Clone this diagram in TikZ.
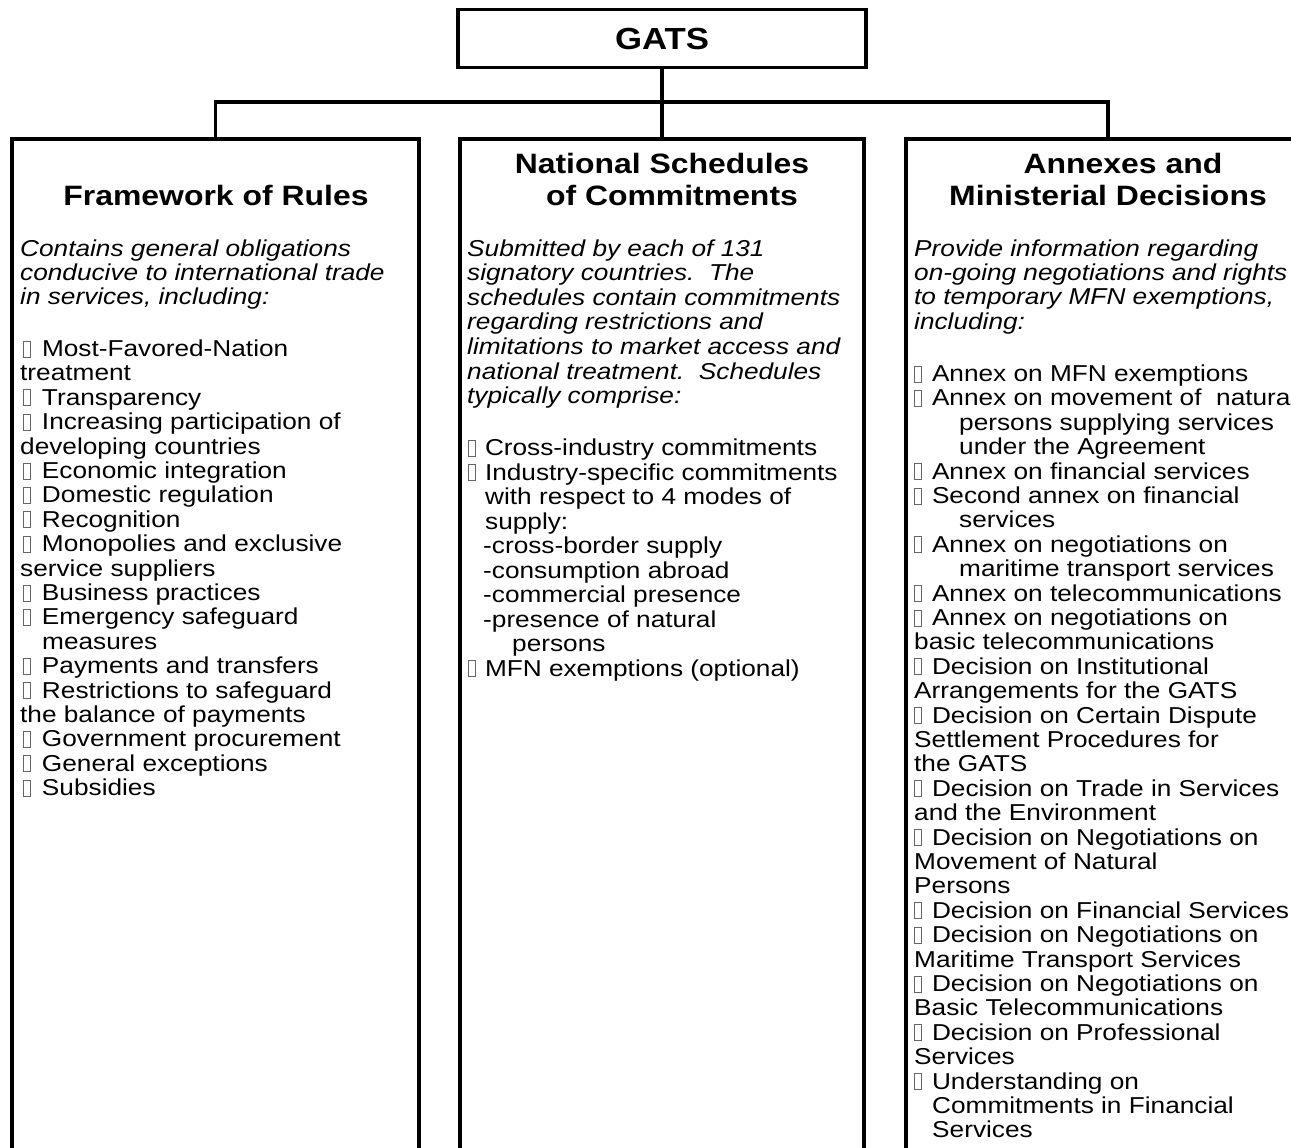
\documentclass[tikz,border=0pt]{standalone}
\usepackage{fontspec}
\setmainfont{Liberation Sans}[FakeStretch=1.14]
\newcommand\tofu{{\color{black!60}\setlength\fboxsep{0pt}\setlength\fboxrule{0.9pt}\fbox{\rule{0pt}{15pt}\hspace{6pt}}}}
\newcommand\tfa{\hspace*{3pt}\tofu\hspace{11pt}}
\newcommand\tfb{\hspace*{1pt}\tofu\hspace{9pt}}
\newcommand\tfc{\tofu\hspace{10pt}}
\tikzset{
  conn/.style={line width=3.5pt},
  colbox/.style={draw, line width=4pt, minimum height=1100pt, anchor=north, inner sep=0pt},
  title/.style={anchor=base, align=center, inner sep=0pt, font=\fontsize{28}{32}\selectfont\bfseries},
  intro/.style={anchor=base west, align=left, inner sep=0pt, font=\fontsize{23}{24.4}\selectfont\itshape},
  items/.style={anchor=base west, align=left, inner sep=0pt, font=\fontsize{23}{24.4}\selectfont},
}
\begin{document}
\begin{tikzpicture}[x=1pt,y=-1pt]
\useasboundingbox (0,0) rectangle (1291,1148);
\clip (0,0) rectangle (1291,1148);
% top box
\node[draw, line width=3.5pt, minimum width=408pt, minimum height=58pt, inner sep=0pt,
      font=\fontsize{30.5}{34}\selectfont\bfseries] (gats) at (662,38.7) {GATS};
% column boxes
\node[colbox, minimum width=407pt] (fw) at (215.5,137) {};
\node[colbox, minimum width=404pt] (ns) at (662,137) {};
\node[colbox, minimum width=404pt] (am) at (1108,137) {};
% connectors
\coordinate (bar) at (662,102);
\draw[conn] (gats.south) -- (ns.north);
\draw[conn] (fw.north) |- (bar) -| (am.north);
% titles (base anchor = last line)
\node[title] (fwt) at (216,205) {Framework of Rules};
\node[title] (nst) at (662,205) {National Schedules\\\hspace*{20pt}of Commitments};
\node[title] (amt) at (1108,205) {\hspace*{30pt}Annexes and\\Ministerial Decisions};
% intros (base anchor = last line)
\node[intro] (fwi) at (20,304.8) {Contains general obligations\\conducive to international trade\\in services, including:};
\node[intro, font=\fontsize{23}{24.6}\selectfont\itshape] (nsi) at (467,403.6) {Submitted by each of 131\\signatory countries.\ \ The\\schedules contain commitments\\regarding restrictions and\\limitations to market access and\\national treatment.\ \ Schedules\\typically comprise:};
\node[intro] (ami) at (914,329.2) {Provide information regarding\\on-going negotiations and rights\\to temporary MFN exemptions,\\including:};
% lists
\node[items] (fwl) at (20,795.7) {\tfa Most-Favored-Nation\\
treatment\\
\tfa Transparency\\
\tfa Increasing participation of\\
developing countries\\
\tfa Economic integration\\
\tfa Domestic regulation\\
\tfa Recognition\\
\tfa Monopolies and exclusive\\
service suppliers\\
\tfa Business practices\\
\tfa Emergency safeguard\\
\hspace*{22pt}measures\\
\tfa Payments and transfers\\
\tfa Restrictions to safeguard\\
the balance of payments\\
\tfa Government procurement\\
\tfa General exceptions\\
\tfa Subsidies};
\node[items, font=\fontsize{23}{24.5}\selectfont] (nsl) at (467,676) {\tfb Cross-industry commitments\\
\tfb Industry-specific commitments\\
\hspace*{18pt}with respect to 4 modes of\\
\hspace*{18pt}supply:\\
\hspace*{16pt}-cross-border supply\\
\hspace*{16pt}-consumption abroad\\
\hspace*{16pt}-commercial presence\\
\hspace*{16pt}-presence of natural\\
\hspace*{45pt}persons\\
\tfb MFN exemptions (optional)};
\node[items] (aml) at (914,1137.9) {\tfc Annex on MFN exemptions\\
\tfc Annex on movement of\ \ natural\\
\hspace*{45pt}persons supplying services\\
\hspace*{45pt}under the Agreement\\
\tfc Annex on financial services\\
\tfc Second annex on financial\\
\hspace*{45pt}services\\
\tfc Annex on negotiations on\\
\hspace*{45pt}maritime transport services\\
\tfc Annex on telecommunications\\
\tfc Annex on negotiations on\\
basic telecommunications\\
\tfc Decision on Institutional\\
Arrangements for the GATS\\
\tfc Decision on Certain Dispute\\
Settlement Procedures for\\
the GATS\\
\tfc Decision on Trade in Services\\
and the Environment\\
\tfc Decision on Negotiations on\\
Movement of Natural\\
Persons\\
\tfc Decision on Financial Services\\
\tfc Decision on Negotiations on\\
Maritime Transport Services\\
\tfc Decision on Negotiations on\\
Basic Telecommunications\\
\tfc Decision on Professional\\
Services\\
\tfc Understanding on\\
\hspace*{18pt}Commitments in Financial\\
\hspace*{18pt}Services};
\end{tikzpicture}
\end{document}
